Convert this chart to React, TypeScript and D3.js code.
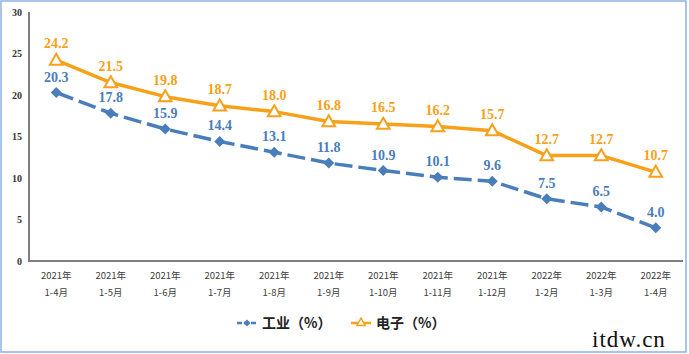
import React, { useEffect, useRef } from 'react'
import * as d3 from 'd3'

const years = ['2021年', '2021年', '2021年', '2021年', '2021年', '2021年', '2021年', '2021年', '2021年', '2022年', '2022年', '2022年']
const months = ['1-4月', '1-5月', '1-6月', '1-7月', '1-8月', '1-9月', '1-10月', '1-11月', '1-12月', '1-2月', '1-3月', '1-4月']
const industry = [20.3, 17.8, 15.9, 14.4, 13.1, 11.8, 10.9, 10.1, 9.6, 7.5, 6.5, 4.0]
const electronics = [24.2, 21.5, 19.8, 18.7, 18.0, 16.8, 16.5, 16.2, 15.7, 12.7, 12.7, 10.7]
const yTicks = [0, 5, 10, 15, 20, 25, 30]

const BLUE = '#4a7ebb'
const ORANGE = '#f7a11a'
const serif = '"Liberation Serif", "Times New Roman", serif'
const cjk = '"Noto Sans CJK SC", sans-serif'

const diamond = (r: number) => `M0,${-r}L${r},0L0,${r}L${-r},0Z`

const App = () => {
  const ref = useRef<SVGSVGElement>(null)

  useEffect(() => {
    const svg = d3.select(ref.current)
    svg.selectAll('*').remove()

    const keys = months.map((m, i) => i)
    const x = d3.scaleBand<number>().domain(keys).range([29, 683])
    const y = d3.scaleLinear().domain([0, 30]).range([261, 12])
    const cx = (i: number) => (x(i) as number) + x.bandwidth() / 2

    // frame
    svg.append('rect').attr('x', 1).attr('y', 1).attr('width', 685).attr('height', 351)
      .attr('fill', '#fff').attr('stroke', '#8db3e2').attr('stroke-width', 1.5)

    // y ticks
    svg.append('g').selectAll('text').data(yTicks).join('text')
      .attr('x', 22).attr('y', (d) => y(d) + 3.5)
      .attr('text-anchor', 'end')
      .attr('font-family', serif).attr('font-size', 10).attr('font-weight', 'bold').attr('fill', '#333')
      .text((d) => d)

    // axes lines
    svg.append('path').attr('d', `M29,${y(30)}V${y(0)}H683`)
      .attr('fill', 'none').attr('stroke', '#7f7f7f').attr('stroke-width', 2)

    // x labels
    const xl = svg.append('g').selectAll('text').data(keys).join('text')
      .attr('text-anchor', 'middle')
      .attr('font-family', cjk).attr('font-size', 9.5).attr('fill', '#404040')
    xl.append('tspan').attr('x', (d) => cx(d)).attr('y', 279).text((d) => years[d])
    xl.append('tspan').attr('x', (d) => cx(d)).attr('y', 296).text((d) => months[d])

    const line = (vals: number[]) => d3.line<number>().x((d, i) => cx(i)).y((d) => y(d))(vals)

    // electronics
    svg.append('path').attr('d', line(electronics))
      .attr('fill', 'none').attr('stroke', ORANGE).attr('stroke-width', 3.5).attr('stroke-linejoin', 'round')
    const tri = d3.symbol().type(d3.symbolTriangle).size(70)
    svg.append('g').selectAll('path').data(electronics).join('path')
      .attr('d', tri)
      .attr('transform', (d, i) => `translate(${cx(i)},${y(d) + 1})`)
      .attr('fill', '#fff').attr('stroke', ORANGE).attr('stroke-width', 2)
    svg.append('g').selectAll('text').data(electronics).join('text')
      .attr('x', (d, i) => cx(i)).attr('y', (d) => y(d) - 12)
      .attr('text-anchor', 'middle')
      .attr('font-family', serif).attr('font-size', 14).attr('font-weight', 'bold').attr('fill', ORANGE)
      .text((d) => d.toFixed(1))

    // industry
    svg.append('path').attr('d', line(industry))
      .attr('fill', 'none').attr('stroke', BLUE).attr('stroke-width', 3.5)
      .attr('stroke-dasharray', '18,6')
    svg.append('g').selectAll('path').data(industry).join('path')
      .attr('d', diamond(5.5))
      .attr('transform', (d, i) => `translate(${cx(i)},${y(d)})`)
      .attr('fill', BLUE)
    svg.append('g').selectAll('text').data(industry).join('text')
      .attr('x', (d, i) => cx(i)).attr('y', (d) => y(d) - 11)
      .attr('text-anchor', 'middle')
      .attr('font-family', serif).attr('font-size', 14).attr('font-weight', 'bold').attr('fill', BLUE)
      .text((d) => d.toFixed(1))

    // legend
    const lg = svg.append('g')
    lg.append('path').attr('d', 'M237,323H257').attr('stroke', BLUE).attr('stroke-width', 2.5).attr('stroke-dasharray', '5,2')
    lg.append('path').attr('d', diamond(3.5)).attr('transform', 'translate(247,323)').attr('fill', BLUE)
    lg.append('text').attr('x', 262).attr('y', 328).attr('font-family', cjk).attr('font-size', 14).attr('font-weight', 'bold').attr('fill', '#222').text('工业（%）')
    lg.append('path').attr('d', 'M351,323H371').attr('stroke', ORANGE).attr('stroke-width', 2.5)
    lg.append('path').attr('d', tri.size(30)).attr('transform', 'translate(361,323)').attr('fill', '#fff').attr('stroke', ORANGE).attr('stroke-width', 1.5)
    lg.append('text').attr('x', 376).attr('y', 328).attr('font-family', cjk).attr('font-size', 14).attr('font-weight', 'bold').attr('fill', '#222').text('电子（%）')

    // watermark
    svg.append('text').attr('x', 592).attr('y', 347).attr('font-family', serif).attr('font-size', 23)
      .attr('letter-spacing', 1).attr('fill', '#111').text('itdw.cn')
  }, [])

  return <svg ref={ref} width={689} height={354} style={{ position: 'absolute', left: 0, top: 0 }} />
}

export default App
